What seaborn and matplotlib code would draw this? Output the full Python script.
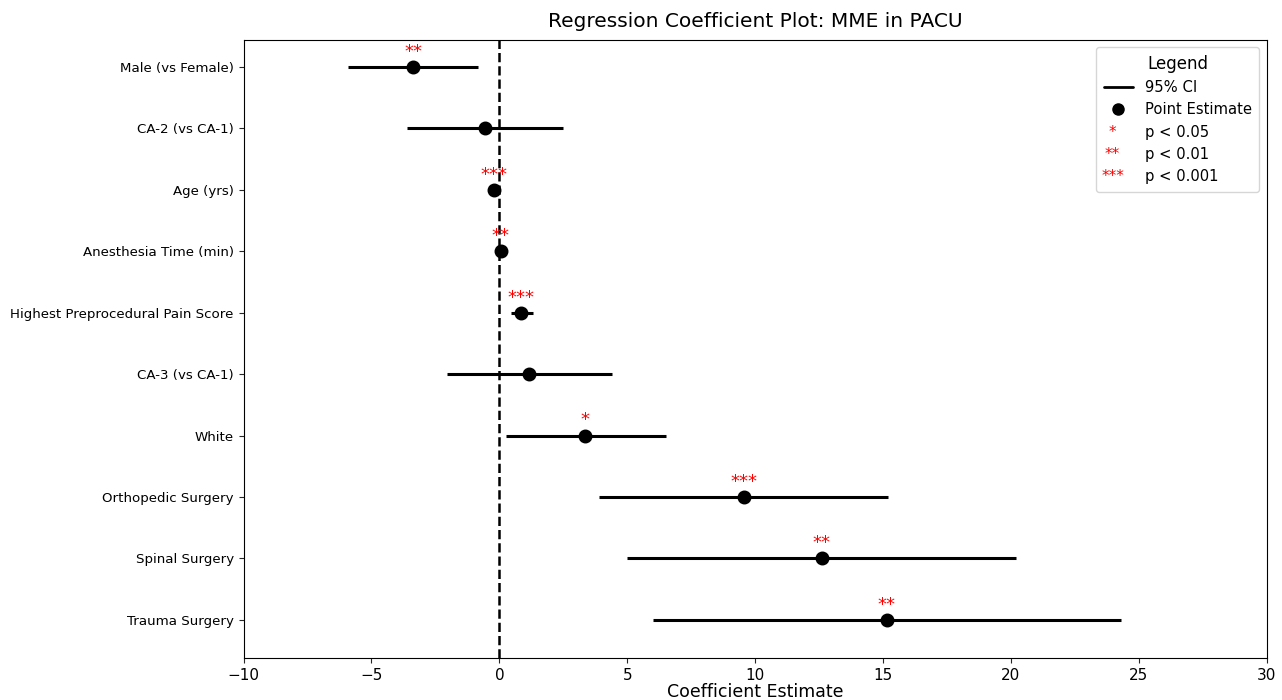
import numpy as np
import pandas as pd
import matplotlib
matplotlib.use("Agg")
import matplotlib.pyplot as plt
from matplotlib.lines import Line2D
from matplotlib.legend_handler import HandlerBase
from matplotlib.text import Text
import seaborn as sns

sns.set_style("ticks")
plt.rcParams["font.family"] = ["DejaVu Sans"]
plt.rcParams["text.color"] = "black"
plt.rcParams["xtick.labelcolor"] = "black"
plt.rcParams["ytick.labelcolor"] = "black"
plt.rcParams["axes.labelcolor"] = "black"
plt.rcParams["axes.edgecolor"] = "black"

variables = [
    "Male (vs Female)",
    "CA-2 (vs CA-1)",
    "Age (yrs)",
    "Anesthesia Time (min)",
    "Highest Preprocedural Pain Score",
    "CA-3 (vs CA-1)",
    "White",
    "Orthopedic Surgery",
    "Spinal Surgery",
    "Trauma Surgery",
]
coef = [-3.36, -0.55, -0.2, 0.05, 0.85, 1.15, 3.35, 9.57, 12.6, 15.15]
ci_low = [-5.9, -3.6, -0.35, -0.02, 0.45, -2.05, 0.25, 3.9, 5.0, 6.0]
ci_high = [-0.85, 2.5, -0.05, 0.12, 1.3, 4.4, 6.5, 15.2, 20.2, 24.3]
stars = ["**", "", "***", "**", "***", "", "*", "***", "**", "**"]

df = pd.DataFrame({"variable": variables, "coef": coef,
                   "lo": ci_low, "hi": ci_high, "sig": stars})


class StarHandle:
    def __init__(self, s):
        self.s = s


class StarHandler(HandlerBase):
    # draws the star string as red text in the legend handle slot
    def create_artists(self, legend, orig_handle, xdescent, ydescent,
                       width, height, fontsize, trans):
        t = Text(x=width * 0.3 - xdescent, y=height * 0.45 - ydescent,
                 text=orig_handle.s, color="red", fontsize=11,
                 ha="center", va="center")
        t.set_transform(trans)
        return [t]


fig = plt.figure(figsize=(12.82, 7.0), dpi=100)
ax = fig.add_axes([0.19, 0.06, 0.798, 0.883])

ypos = np.arange(len(df))
ax.hlines(ypos, df["lo"], df["hi"], color="black", linewidth=2.2, zorder=2)
sns.pointplot(data=df, x="coef", y="variable", order=variables, orient="h",
              linestyle="none", color="black", markers="o", markersize=8,
              errorbar=None, ax=ax, zorder=3)

for i, row in df.iterrows():
    if row["sig"]:
        ax.text(row["coef"], i - 0.1, row["sig"], color="red", fontsize=13,
                ha="center", va="bottom")

ax.axvline(0, color="black", linestyle="--", linewidth=1.8, zorder=1)

ax.set_xlim(-10, 30)
ax.set_ylim(len(df) - 0.38, -0.44)
ax.set_xticks(np.arange(-10, 31, 5))
ax.tick_params(axis="x", labelsize=11)
ax.tick_params(axis="y", labelsize=9.6)
ax.set_ylabel("")
ax.set_xlabel("Coefficient Estimate", fontsize=12.5, labelpad=0)
ax.set_title("Regression Coefficient Plot: MME in PACU", fontsize=14.5, pad=9)

handles = [
    Line2D([0], [0], color="black", lw=2),
    Line2D([0], [0], color="black", marker="o", linestyle="none", markersize=8),
    StarHandle("*"),
    StarHandle("**"),
    StarHandle("***"),
]
labels = ["95% CI", "Point Estimate", "p < 0.05", "p < 0.01", "p < 0.001"]
leg = ax.legend(handles, labels, title="Legend", loc="upper right",
                fontsize=10.6, title_fontsize=12, borderpad=0.5,
                labelspacing=0.5, handler_map={StarHandle: StarHandler()})

fig.savefig("out.png", dpi=100)
